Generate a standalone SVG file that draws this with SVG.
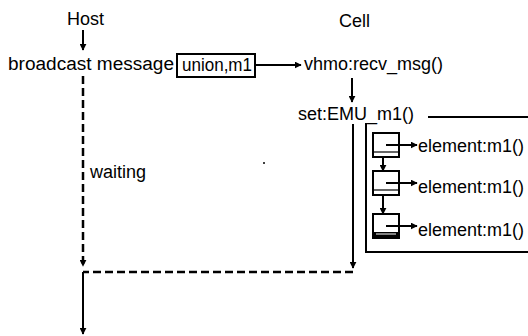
<svg xmlns="http://www.w3.org/2000/svg" width="528" height="336" viewBox="0 0 528 336">
<style>
text{font-family:"Liberation Sans",Arial,sans-serif;font-size:18px;fill:#000}
.s{stroke:#000;stroke-width:2;fill:none}
.d{stroke:#000;stroke-width:2.5;fill:none;stroke-dasharray:8 4}
.t{stroke:#000;stroke-width:1.2;fill:none}
</style>
<defs>
<marker id="ah" viewBox="0 0 10 10" refX="9" refY="5" markerWidth="7" markerHeight="7" markerUnits="userSpaceOnUse" orient="auto"><path d="M0,0 L10,5 L0,10 z" fill="#000"/></marker>
</defs>
<rect width="528" height="336" fill="#fff"/>
<g id="host"><text x="67" y="25">Host</text></g>
<g id="cell"><text x="339" y="27">Cell</text></g>
<g id="broadcast"><text x="8" y="70" textLength="166" lengthAdjust="spacingAndGlyphs">broadcast message</text></g>
<g id="union"><rect x="177" y="54" width="78" height="23" fill="#fff" stroke="#000" stroke-width="2"/><text x="182" y="71" textLength="70" lengthAdjust="spacingAndGlyphs">union,m1</text></g>
<g id="recv"><text x="304" y="70">vhmo:recv_msg()</text></g>
<g id="set"><text x="298" y="120">set:EMU_m1()</text></g>
<g id="waiting"><text x="90" y="178">waiting</text></g>
<g id="frame">
<path class="s" d="M428,117 H528"/>
<path class="s" d="M366,123 V252 H528"/>
</g>
<g id="el1"><rect x="373" y="133" width="26" height="24" class="s"/><path class="t" d="M373,152 H399"/><text x="418" y="152">element:m1()</text></g>
<g id="el2"><rect x="373" y="171" width="26" height="24" class="s"/><path class="t" d="M373,190 H399"/><text x="418" y="193">element:m1()</text></g>
<g id="el3"><rect x="373" y="214" width="26" height="24" class="s"/><rect x="374" y="232" width="24" height="5" fill="#000"/><path d="M376,234 H396" stroke="#fff" stroke-width="1"/><text x="418" y="236">element:m1()</text></g>
<circle cx="264" cy="163" r="1" fill="#000"/>
<g id="connectors">
<path class="s" d="M83,30 V50" marker-end="url(#ah)"/>
<path class="s" d="M255,65 H301" marker-end="url(#ah)"/>
<path class="s" d="M352,78 V102" marker-end="url(#ah)"/>
<path class="d" d="M83,76 V266" marker-end="url(#ah)"/>
<path class="d" d="M353,272 H83"/>
<path class="s" d="M353,124 V268" marker-end="url(#ah)"/>
<path class="s" d="M83,272 V334" marker-end="url(#ah)"/>
<path class="s" d="M386,145 H417" marker-end="url(#ah)"/>
<path class="s" d="M386,183 H417" marker-end="url(#ah)"/>
<path class="s" d="M386,226 H417" marker-end="url(#ah)"/>
<path class="s" d="M383,157 V171" marker-end="url(#ah)"/>
<path class="s" d="M383,195 V214" marker-end="url(#ah)"/>
</g>
</svg>
